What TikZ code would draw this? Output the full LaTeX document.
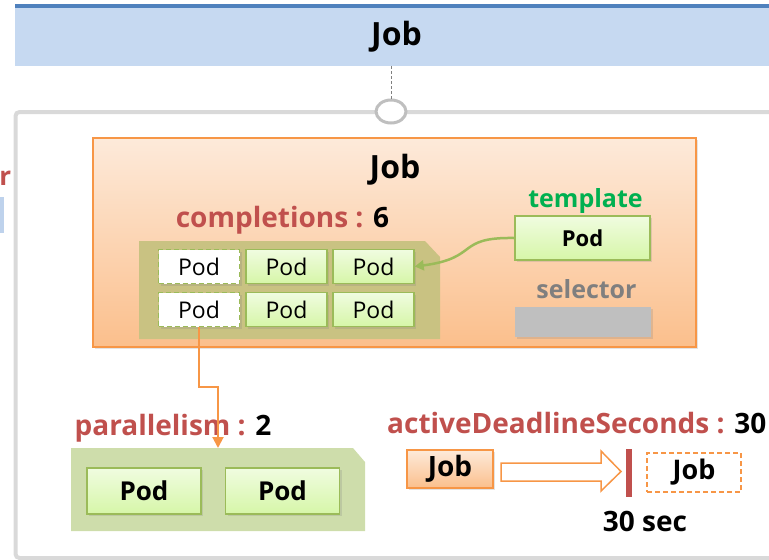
\documentclass[tikz,border=0pt]{standalone}
\usepackage{fontspec}
\setmainfont{Open Sans}
\usetikzlibrary{shadows,arrows.meta,calc,shapes.geometric}
\definecolor{barblue}{RGB}{198,217,241}
\definecolor{darkblue}{RGB}{79,129,189}
\definecolor{framegray}{RGB}{217,217,217}
\definecolor{circgray}{RGB}{191,191,191}
\definecolor{jborder}{RGB}{247,150,70}
\definecolor{jtop}{RGB}{253,234,218}
\definecolor{jbot}{RGB}{251,191,140}
\definecolor{redtxt}{RGB}{192,80,77}
\definecolor{greentxt}{RGB}{0,176,80}
\definecolor{podborder}{RGB}{155,187,89}
\definecolor{podtop}{RGB}{240,252,224}
\definecolor{podbot}{RGB}{214,246,168}
\definecolor{olive}{RGB}{201,194,130}
\definecolor{pargreen}{RGB}{206,221,171}
\definecolor{selgray}{RGB}{191,191,191}
\definecolor{seltxt}{RGB}{127,127,127}
\definecolor{sliver}{RGB}{190,210,236}
\tikzset{
  shad/.style={drop shadow={shadow xshift=2pt,shadow yshift=-2pt,opacity=0.22}},
  podbox/.style={draw=podborder,line width=1.5pt,top color=podtop,bottom color=podbot,
    minimum width=81pt,minimum height=34pt,inner sep=0pt,shad,
    font=\fontsize{23}{25}\selectfont},
  podfree/.style={draw=podborder,line width=1.5pt,dash pattern=on 5pt off 3pt,fill=white,
    minimum width=81pt,minimum height=34pt,inner sep=0pt,shad,
    font=\fontsize{23}{25}\selectfont},
  bigpod/.style={draw=podborder,line width=1.5pt,top color=podtop,bottom color=podbot,
    inner sep=0pt,shad,font=\bfseries\fontsize{26}{28}\selectfont},
  lbl/.style={inner sep=0pt,font=\bfseries\fontsize{28}{30}\selectfont},
  jobtitle/.style={inner sep=0pt,font=\bfseries\fontsize{32}{34}\selectfont},
  orangeline/.style={draw=jborder,line width=2pt},
}
\begin{document}
\begin{tikzpicture}[x=1pt,y=-1pt]
\path[use as bounding box] (0,0) rectangle (769,560);
\clip (0,0) rectangle (769,560);

% left cut-off remnants
\fill[sliver] (-5,197) rectangle (3.5,233);
\node[inner sep=0pt,font=\bfseries\fontsize{26}{28}\selectfont,text=redtxt,anchor=base east] (rr) at (11.5,185) {r};

% top bar
\node[fill=barblue,minimum width=770pt,minimum height=60pt,inner sep=0pt,anchor=north west] (topbar) at (15,6) {};
\draw[darkblue,line width=3.5pt] (topbar.north west) -- (topbar.north east);
\node[jobtitle] (title) at (396.5,37) {Job};

% frame
\draw[framegray,line width=4pt,rounded corners=4pt] (790,112) -- (15.5,112) -- (15.5,558) -- (790,558);
\node[ellipse,draw=circgray,line width=3pt,fill=white,minimum width=30pt,minimum height=23pt,inner sep=0pt] (circ) at (391,111.5) {};
\draw[gray,densely dashed,line width=0.6pt] (topbar.south -| circ.north) -- (circ.north);

% main Job box
\node[draw=jborder,line width=1.5pt,top color=jtop,bottom color=jbot,
  minimum width=603pt,minimum height=209pt,inner sep=0pt,shad] (jobbox) at (394.5,242.5) {};
\node[jobtitle] (jobl) at (395,170) {Job};
\node[lbl,anchor=base] (compl) at (282.5,227.5) {\textcolor{redtxt}{completions :} 6};

% olive group
\fill[olive] (139,241) -- (425,241) -- (440,257) -- (440,339) -- (139,339) -- cycle;
\node[podfree] (p11) at (199,266.5) {Pod};
\node[podbox]  (p12) at (286.5,266.5) {Pod};
\node[podbox]  (p13) at (373.5,266.5) {Pod};
\node[podfree] (p21) at (199,309.5) {Pod};
\node[podbox]  (p22) at (286.5,309.5) {Pod};
\node[podbox]  (p23) at (373.5,309.5) {Pod};

% template / selector
\node[inner sep=0pt,anchor=base,text=greentxt,font=\bfseries\fontsize{25}{27}\selectfont] (tmpl) at (585.5,207) {template};
\node[bigpod,minimum width=135pt,minimum height=44pt,font=\bfseries\fontsize{22}{24}\selectfont] (tpod) at (582.5,238) {Pod};
\node[inner sep=0pt,anchor=base,text=seltxt,font=\bfseries\fontsize{25}{27}\selectfont] (sel) at (586.5,298) {selector};
\node[fill=selgray,minimum width=136pt,minimum height=30pt,inner sep=0pt,shad] (selbox) at (583,322) {};

\draw[podborder,line width=2.5pt,-{Triangle[length=9pt,width=10pt]}]
  (tpod.west) .. controls (455,237) and (480,258) .. (p13.east);

% parallelism
\node[lbl,anchor=base] (parl) at (173,435) {\textcolor{redtxt}{parallelism :} 2};
\fill[pargreen] (71,448) -- (353,448) -- (365,462) -- (365,531) -- (71,531) -- cycle;
\coordinate (ptip) at (218,448);
\node[bigpod,minimum width=114pt,minimum height=46pt] (q1) at (144,491) {Pod};
\node[bigpod,minimum width=114pt,minimum height=46pt] (q2) at (282.5,491) {Pod};
\draw[orangeline,-{Triangle[length=11pt,width=11pt]}] (p21.south) -- ++(0,59.5) -| (ptip);

% activeDeadlineSeconds
\node[lbl,anchor=base west] (adl) at (387,433) {\textcolor{redtxt}{activeDeadlineSeconds :} 30};
\node[draw=jborder,line width=1.5pt,top color=jtop,bottom color=jbot,
  minimum width=86pt,minimum height=38pt,inner sep=0pt,shad,
  font=\bfseries\fontsize{28}{30}\selectfont] (sjob) at (450,469) {Job};
\draw[jborder,line width=1.5pt,fill=white] (501,463) -- (601,463) -- (601,451) -- (621,471.5) -- (601,491) -- (601,481) -- (501,481) -- cycle;
\node[fill=redtxt,minimum width=6pt,minimum height=48pt,inner sep=0pt] (rbar) at (629,473) {};
\node[draw=jborder,line width=1.5pt,dash pattern=on 5pt off 3pt,fill=white,
  minimum width=94pt,minimum height=39pt,inner sep=0pt,
  font=\bfseries\fontsize{27}{29}\selectfont] (djob) at (694,472.5) {Job};
\node[inner sep=0pt,font=\bfseries\fontsize{28}{30}\selectfont] (sec) at (645,521) {30 sec};
\end{tikzpicture}
\end{document}
